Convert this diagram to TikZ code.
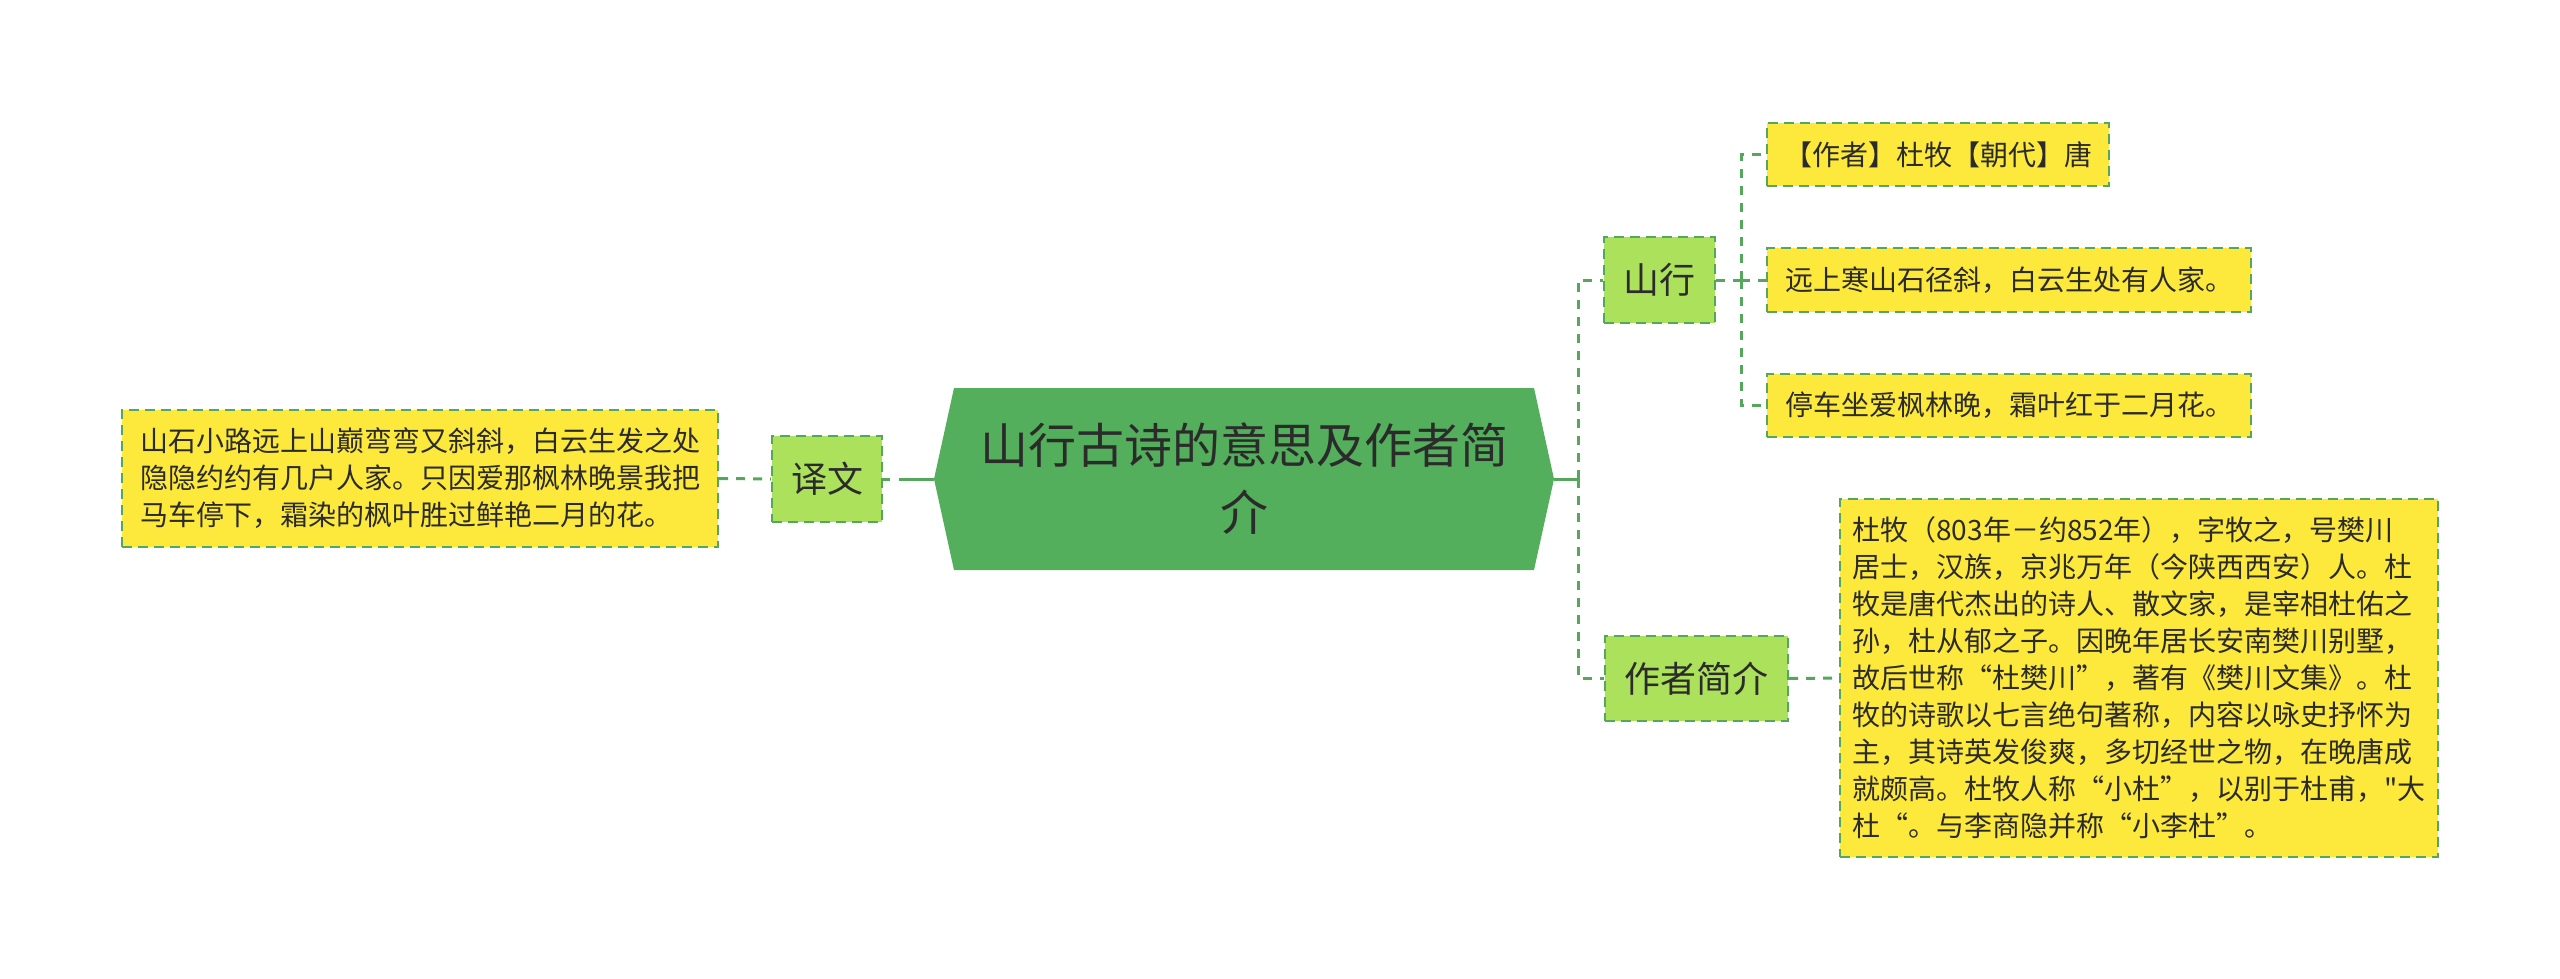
\documentclass[tikz,border=0pt]{standalone}
\usepackage{fontspec}
\newfontfamily\cjk{Noto Sans CJK SC}
\definecolor{cgreen}{HTML}{53AF5B}
\definecolor{lgreen}{HTML}{ACE15C}
\definecolor{lyellow}{HTML}{FDE93B}
\definecolor{lline}{HTML}{55A85B}
\definecolor{txt}{HTML}{2B2B2B}
\tikzset{
  base/.style={inner sep=0pt, text=txt, align=center},
  leaf/.style={base, fill=lyellow, draw=lline, line width=1.2pt, dash pattern=on 5pt off 3pt, font=\cjk\fontsize{14pt}{18.5pt}\selectfont},
  sub/.style={base, fill=lgreen, draw=lline, line width=1.2pt, dash pattern=on 5pt off 3pt, font=\cjk\fontsize{18pt}{22pt}\selectfont},
  title/.style={base, font=\cjk\fontsize{24pt}{33.5pt}\selectfont},
  conn/.style={draw=lline, line width=1.5pt, dash pattern=on 4.5pt off 4pt},
  sconn/.style={draw=lline, line width=1.5pt}
}
\begin{document}
\begin{tikzpicture}[x=0.5pt, y=-0.5pt]
\useasboundingbox (0,0) rectangle (2560,979);
\fill[white] (0,0) rectangle (2560,979);
% central hexagon
\fill[cgreen] (934,479) -- (954,388) -- (1534,388) -- (1554,479) -- (1534,570) -- (954,570) -- cycle;
\node[title, minimum width=310pt, minimum height=91pt] (c) at (1244,479) {山行古诗的意思及作者简\\介};
% left side
\node[sub, minimum width=55pt, minimum height=43pt] (yw) at (827,479) {译文};
\node[leaf, minimum width=298pt, minimum height=68.5pt, align=left] (yt) at (420,478.5) {山石小路远上山巅弯弯又斜斜，白云生发之处\\隐隐约约有几户人家。只因爱那枫林晚景我把\\马车停下，霜染的枫叶胜过鲜艳二月的花。};
% right side
\node[sub, minimum width=55.5pt, minimum height=43pt] (sx) at (1659.5,280) {山行};
\node[sub, minimum width=91.5pt, minimum height=42.5pt] (zz) at (1696.5,678.5) {作者简介};
\node[leaf, minimum width=171pt, minimum height=31.5pt] (p1) at (1938,154.5) {【作者】杜牧【朝代】唐};
\node[leaf, minimum width=242pt, minimum height=32pt] (p2) at (2009,280) {远上寒山石径斜，白云生处有人家。};
\node[leaf, minimum width=242pt, minimum height=31.5pt] (p3) at (2009,405.5) {停车坐爱枫林晚，霜叶红于二月花。};
\node[leaf, minimum width=299pt, minimum height=179pt, align=left] (bio) at (2139,678) {杜牧（803年－约852年），字牧之，号樊川\\居士，汉族，京兆万年（今陕西西安）人。杜\\牧是唐代杰出的诗人、散文家，是宰相杜佑之\\孙，杜从郁之子。因晚年居长安南樊川别墅，\\故后世称“杜樊川”，著有《樊川文集》。杜\\牧的诗歌以七言绝句著称，内容以咏史抒怀为\\主，其诗英发俊爽，多切经世之物，在晚唐成\\就颇高。杜牧人称“小杜”，以别于杜甫，"大\\杜“。与李商隐并称“小李杜”。};
% connectors
\coordinate (rj) at (1578,479);
\coordinate (j2) at (1741,280);
\draw[conn] (yt.east) -- (yw.west);
\draw[conn, dash pattern=on 3.5pt off 4.5pt on 20pt off 0pt] (yw.east) -- (c.west);
\draw[sconn] (c.east) -- (rj);
\draw[conn] (rj) |- (sx.west);
\draw[conn] (rj) |- (zz.west);
\draw[conn] (sx.east) -- (j2);
\draw[conn] (j2) |- (p1.west);
\draw[conn] (j2) -- (p2.west);
\draw[conn] (j2) |- (p3.west);
\draw[conn] (zz.east) -- (bio.west);
\end{tikzpicture}
\end{document}
